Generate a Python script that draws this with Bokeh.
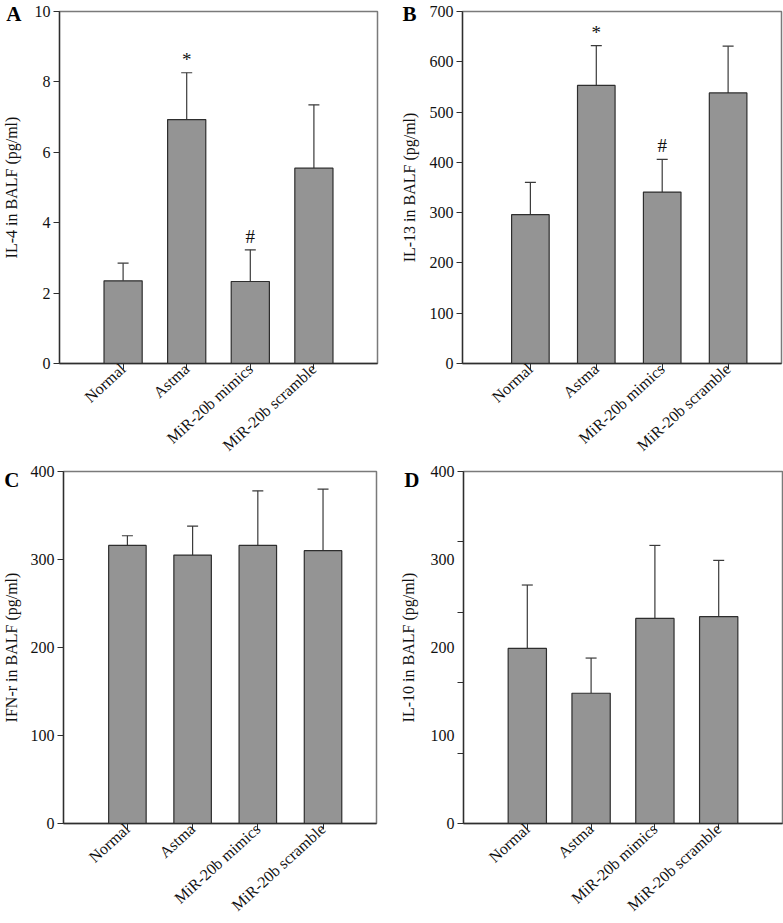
import numpy as np
from bokeh.plotting import figure
from bokeh.models import (Range1d, FixedTicker, ColumnDataSource, Whisker, TeeHead,
                          LinearAxis)
from bokeh.layouts import column, row
from bokeh.embed import file_html
from bokeh.resources import INLINE
from bokeh.core.properties import value

groups = ["Normal", "Astma", "MiR-20b mimics", "MiR-20b scramble"]

il4_mean = [2.35, 6.93, 2.33, 5.55]
il4_upper = [2.85, 8.26, 3.23, 7.35]
il13_mean = [296, 553, 341, 538]
il13_upper = [360, 632, 406, 631]
ifn_mean = [316, 305, 316, 310]
ifn_upper = [327, 338, 378, 380]
il10_mean = [199, 148, 233, 235]
il10_upper = [271, 188, 316, 299]
marks_ab = ["", "*", "#", ""]
marks_none = ["", "", "", ""]

il4_ticks = [0, 2, 4, 6, 8, 10]
il13_ticks = [0, 100, 200, 300, 400, 500, 600, 700]
ifn_ticks = [0, 100, 200, 300, 400]
il10_ticks = [0, 100, 200, 300, 400]
il10_minor = [0, 80, 160, 240, 320, 400]

FONT = "Liberation Serif"
BAR_FILL = "#949494"
LINE = "#2e2e2e"
TEXT = "#111111"


def panel(letter, ylabel, means, uppers, marks, yticks, xr, size, borders,
          bar_w, letter_standoff, label_standoff, minor=None):
    xs = list(range(1, len(groups) + 1))
    w, h = size
    bl, br, bt, bb = borders
    p = figure(width=w, height=h, x_range=Range1d(*xr),
               y_range=Range1d(yticks[0], yticks[-1]),
               output_backend="svg", toolbar_location=None, tools="",
               min_border_left=bl, min_border_right=br,
               min_border_top=bt, min_border_bottom=bb)
    p.xgrid.visible = False
    p.ygrid.visible = False
    p.outline_line_color = "#7a7a7a"
    p.outline_line_width = 1.5
    p.background_fill_color = "white"
    p.border_fill_color = "white"

    src = ColumnDataSource(dict(x=xs, mean=means, upper=uppers, mark=marks))
    wh = Whisker(base="x", lower="mean", upper="upper", source=src,
                 lower_head=None,
                 upper_head=TeeHead(size=11, line_color="#3a3a3a", line_width=1.2),
                 line_color="#3a3a3a", line_width=1.2)
    p.add_layout(wh)
    p.vbar(x="x", top="mean", bottom=0, width=bar_w, source=src,
           fill_color=BAR_FILL, line_color=LINE, line_width=1.2)
    p.text(x="x", y="upper", text="mark", source=src, text_align="center",
           text_baseline="bottom", y_offset=-3,
           text_font=value(FONT), text_font_size="19px", text_color=TEXT)

    # category axis
    xa = p.xaxis[0]
    xa.ticker = FixedTicker(ticks=xs, minor_ticks=[])
    xa.major_label_overrides = {x: g for x, g in zip(xs, groups)}
    xa.major_label_orientation = 0.74
    xa.major_label_text_font = FONT
    xa.major_label_text_font_size = "16px"
    xa.major_label_text_color = TEXT
    xa.major_label_standoff = -3
    xa.major_tick_out = 6
    xa.major_tick_in = 0
    xa.minor_tick_out = 0
    xa.axis_line_color = LINE
    xa.axis_line_width = 1.3
    xa.major_tick_line_color = LINE

    # value axis (ticks + numbers)
    ya = p.yaxis[0]
    if minor is None:
        ya.ticker = FixedTicker(ticks=yticks, minor_ticks=[])
        ya.major_tick_out = 6
        ya.minor_tick_out = 0
    else:
        ya.ticker = FixedTicker(ticks=yticks, minor_ticks=minor)
        ya.major_tick_out = 0
        ya.minor_tick_out = 6
        ya.minor_tick_in = 0
        ya.minor_tick_line_color = LINE
    ya.major_tick_in = 0
    ya.major_label_text_font = FONT
    ya.major_label_text_font_size = "16px"
    ya.major_label_text_color = TEXT
    ya.major_label_standoff = 3
    ya.axis_line_color = LINE
    ya.axis_line_width = 1.3
    ya.major_tick_line_color = LINE

    # outer left axis: panel letter at the top tick, plus the axis title
    top = yticks[-1]
    la = LinearAxis(ticker=FixedTicker(ticks=[top], minor_ticks=[]),
                    major_label_overrides={top: letter})
    la.axis_line_color = None
    la.major_tick_line_color = None
    la.minor_tick_line_color = None
    la.major_tick_out = 0
    la.major_tick_in = 0
    la.minor_tick_out = 0
    la.major_label_standoff = letter_standoff
    la.major_label_text_font = FONT
    la.major_label_text_font_size = "21px"
    la.major_label_text_font_style = "bold"
    la.major_label_text_color = "#000000"
    la.axis_label = ylabel
    la.axis_label_text_font = FONT
    la.axis_label_text_font_size = "16px"
    la.axis_label_text_font_style = "normal"
    la.axis_label_text_color = TEXT
    la.axis_label_standoff = label_standoff
    p.add_layout(la, "left")
    return p


pa = panel("A", "IL-4 in BALF (pg/ml)", il4_mean, il4_upper, marks_ab, il4_ticks,
           (0, 5), (390, 463), (57, 13, 11, 96), 0.6, 10, -17)
pb = panel("B", "IL-13 in BALF (pg/ml)", il13_mean, il13_upper, marks_ab, il13_ticks,
           (-0.03, 4.81), (393, 463), (72, 2, 11, 97), 0.57, 10, -19)
pc = panel("C", "IFN-r in BALF (pg/ml)", ifn_mean, ifn_upper, marks_none, ifn_ticks,
           (0.02, 4.82), (390, 460), (57, 14, 6, 98), 0.575, 8, -19)
pd = panel("D", "IL-10 in BALF (pg/ml)", il10_mean, il10_upper, marks_none, il10_ticks,
           (0, 5), (393, 460), (73, 1, 8, 97), 0.6, 8, -16, minor=il10_minor)

layout = column(row(pa, pb), row(pc, pd))
open("out.html", "w").write(file_html(layout, INLINE))
